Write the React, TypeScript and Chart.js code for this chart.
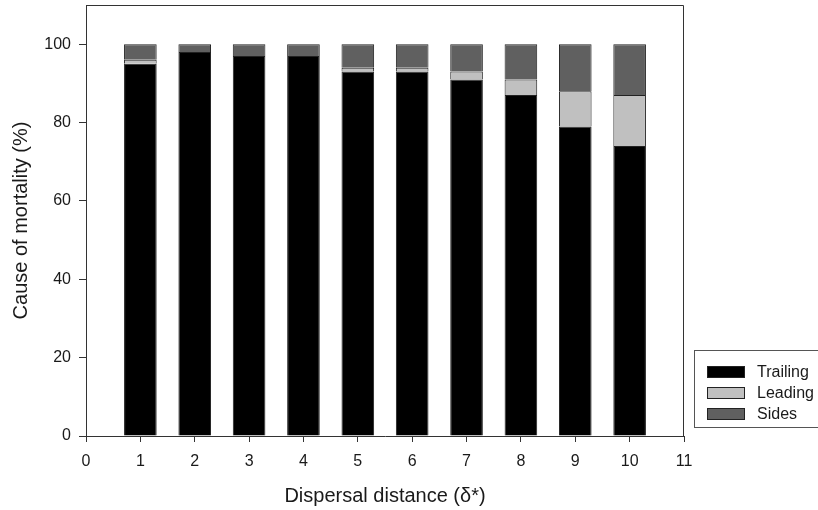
import React, { useEffect, useRef } from "react";
import { Chart, registerables } from "chart.js";

Chart.register(...registerables);

const distances = [1, 2, 3, 4, 5, 6, 7, 8, 9, 10];
const trailing = [95, 98, 97, 97, 93, 93, 91, 87, 79, 74];
const leading = [1, 0, 0, 0, 1, 1, 2, 4, 9, 13];
const sides = [4, 2, 3, 3, 6, 6, 7, 9, 12, 13];
const seriesNames = ["Trailing", "Leading", "Sides"];
const seriesColors = ["#000000", "#c0c0c0", "#606060"];
const xAxisTitle = "Dispersal distance (δ*)";
const yAxisTitle = "Cause of mortality (%)";

const FONT = "'Liberation Sans', Arial, Helvetica, sans-serif";
const INK = "#1a1a1a";

const framePlugin = {
  id: "frame",
  afterDraw(chart: any) {
    const { ctx, chartArea } = chart;
    const l = Math.round(chartArea.left) + 0.5;
    const t = Math.round(chartArea.top) + 0.5;
    const r = Math.round(chartArea.right) - 0.5;
    const b = Math.round(chartArea.bottom);
    ctx.save();
    ctx.strokeStyle = "#333";
    ctx.lineWidth = 1;
    ctx.beginPath();
    ctx.moveTo(l, t);
    ctx.lineTo(r, t);
    ctx.lineTo(r, b);
    ctx.stroke();
    ctx.restore();
  },
};

const legendPlugin = {
  id: "boxLegend",
  afterDraw(chart: any) {
    const { ctx } = chart;
    const x0 = 694.5;
    const y0 = 350.5;
    ctx.save();
    ctx.strokeStyle = "#555";
    ctx.lineWidth = 1;
    ctx.strokeRect(x0, y0, 140, 77);
    ctx.font = `16px ${FONT}`;
    ctx.textBaseline = "middle";
    ctx.textAlign = "left";
    chart.data.datasets.forEach((ds: any, i: number) => {
      const sy = 366 + i * 21;
      ctx.fillStyle = ds.backgroundColor;
      ctx.fillRect(707, sy, 38, 12);
      ctx.strokeStyle = "#222";
      ctx.strokeRect(707.5, sy + 0.5, 37, 11);
      ctx.fillStyle = INK;
      ctx.fillText(ds.label, 757, sy + 6.5);
    });
    ctx.restore();
  },
};

export default function App() {
  const ref = useRef<HTMLCanvasElement>(null);

  useEffect(() => {
    if (!ref.current) return;
    Chart.defaults.font.family = FONT;
    Chart.defaults.color = INK;
    const values = [trailing, leading, sides];
    const chart = new Chart(ref.current, {
      type: "bar",
      data: {
        datasets: seriesNames.map((name, i) => ({
          label: name,
          data: distances.map((d, j) => ({ x: d, y: values[i][j] })),
          backgroundColor: seriesColors[i],
          borderColor: "#222",
          borderWidth: 1,
          barPercentage: 0.6,
          categoryPercentage: 1,
        })),
      },
      options: {
        animation: false,
        responsive: false,
        maintainAspectRatio: false,
        layout: { padding: { top: 5, right: 134, left: 0, bottom: 0 } },
        plugins: {
          legend: { display: false },
          tooltip: { enabled: false },
        },
        scales: {
          x: {
            type: "linear",
            stacked: true,
            offset: false,
            min: 0,
            max: 11,
            afterFit: (s: any) => {
              s.height = 74;
              s.paddingLeft = 0;
              s.paddingRight = 0;
            },
            ticks: {
              stepSize: 1,
              includeBounds: false,
              padding: 10,
              font: { size: 16 },
              color: INK,
              maxRotation: 0,
            },
            grid: {
              display: true,
              offset: false,
              drawOnChartArea: false,
              drawTicks: true,
              tickLength: 6,
              color: "#333",
            },
            border: { display: true, color: "#333", width: 1 },
            title: {
              display: true,
              text: xAxisTitle,
              font: { size: 20 },
              color: INK,
              padding: { top: 0, bottom: 2 },
            },
          },
          y: {
            type: "linear",
            stacked: true,
            min: 0,
            max: 110,
            afterFit: (s: any) => {
              s.width = 86;
              s.paddingTop = 0;
              s.paddingBottom = 0;
            },
            ticks: {
              stepSize: 20,
              includeBounds: false,
              padding: 8,
              font: { size: 16 },
              color: INK,
            },
            grid: {
              display: true,
              offset: false,
              drawOnChartArea: false,
              drawTicks: true,
              tickLength: 7,
              color: "#333",
            },
            border: { display: true, color: "#333", width: 1 },
            title: {
              display: true,
              text: yAxisTitle,
              font: { size: 20 },
              color: INK,
              padding: { top: 9, bottom: 0 },
            },
          },
        },
      },
      plugins: [framePlugin, legendPlugin],
    } as any);
    return () => chart.destroy();
  }, []);

  return (
    <div style={{ position: "fixed", left: 0, top: 0, width: 818, height: 510, background: "#fff" }}>
      <canvas ref={ref} width={818} height={510} style={{ width: 818, height: 510 }} />
    </div>
  );
}
